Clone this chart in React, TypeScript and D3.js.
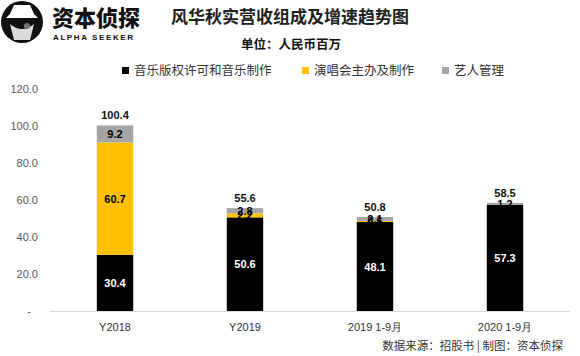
import React from "react";
import * as d3 from "d3";

const categories = ["Y2018", "Y2019", "2019 1-9月", "2020 1-9月"];
const seriesNames = ["音乐版权许可和音乐制作", "演唱会主办及制作", "艺人管理"];
const musicLicensing = [30.4, 50.6, 48.1, 57.3];
const concerts = [60.7, 2.2, 0.6, 0];
const artistMgmt = [9.2, 2.8, 2.1, 1.2];
const totals = [100.4, 55.6, 50.8, 58.5];
const yTicks = [0, 20, 40, 60, 80, 100, 120];

const colors = ["#000000", "#FFC000", "#A5A5A5"];
const labelColors = ["#ffffff", "#000000", "#000000"];

const W = 580;
const H = 356;
const plotLeft = 50;
const plotRight = 570;
const plotTop = 89;
const plotBottom = 311;

export default function App() {
  const x = d3.scaleBand<string>().domain(categories).range([plotLeft, plotRight]).paddingInner(0.72).paddingOuter(0.36);
  const y = d3.scaleLinear().domain([0, 120]).range([plotBottom, plotTop]);
  const series = [musicLicensing, concerts, artistMgmt];
  const rows = categories.map((c, i) => ({ c, s0: musicLicensing[i], s1: concerts[i], s2: artistMgmt[i] }));
  const stack = d3.stack<any>().keys(["s0", "s1", "s2"])(rows);
  const font = "'Liberation Sans', Arial, sans-serif";
  const cjk = "'Noto Sans CJK SC', sans-serif";

  const legendItems = [
    { x: 122, name: seriesNames[0], color: colors[0] },
    { x: 302, name: seriesNames[1], color: colors[1] },
    { x: 442, name: seriesNames[2], color: colors[2] },
  ];

  return (
    <svg width={W} height={H} style={{ position: "absolute", left: 0, top: 0, background: "#fff" }}>
      {/* Logo */}
      <g>
        <circle cx={22} cy={22} r={21} fill="#111" />
        <path d="M6,18 L38,18 L34,14 L30,5 L14,5 L10,14 Z" fill="#fff" />
        <rect x={12} y={19} width={20} height={2} fill="#111" />
        <path d="M10,24 Q22,34 34,24 L30,40 L14,40 Z" fill="#fff" opacity={0.85} />
        <circle cx={27} cy={26} r={3} fill="#777" />
        <text x={52} y={26} fontFamily={cjk} fontWeight={900} fontSize={22} fill="#111">资本侦探</text>
        <text x={53} y={40} fontFamily={font} fontWeight={700} fontSize={8} letterSpacing={1.6} fill="#111">ALPHA SEEKER</text>
      </g>

      {/* Title */}
      <text x={290} y={23} textAnchor="middle" fontFamily={cjk} fontWeight={700} fontSize={17} fill="#222">风华秋实营收组成及增速趋势图</text>
      <text x={291} y={49} textAnchor="middle" fontFamily={cjk} fontWeight={700} fontSize={12.5} fill="#111">单位：人民币百万</text>

      {/* Legend */}
      {legendItems.map((l) => (
        <g key={l.name}>
          <rect x={l.x} y={67} width={7} height={7} fill={l.color} />
          <text x={l.x + 12} y={75} fontFamily={cjk} fontSize={12.5} fill="#333">{l.name}</text>
        </g>
      ))}

      {/* Y axis tick labels */}
      {yTicks.map((t) => (
        <text key={t} x={t === 0 ? 31 : 38} y={y(t) + 4} textAnchor="end" fontFamily={font} fontSize={11} fill="#595959">
          {t === 0 ? "-" : t.toFixed(1)}
        </text>
      ))}

      {/* Axis line */}
      <line x1={plotLeft} x2={plotRight} y1={plotBottom + 0.5} y2={plotBottom + 0.5} stroke="#d9d9d9" strokeWidth={1} />

      {/* Bars */}
      {stack.map((layer, si) =>
        layer.map((d, i) => (
          <rect
            key={`${si}-${i}`}
            x={x(categories[i])}
            y={y(d[1])}
            width={x.bandwidth()}
            height={Math.max(0, y(d[0]) - y(d[1]))}
            fill={colors[si]}
          />
        ))
      )}

      {/* Segment labels */}
      {stack.map((layer, si) =>
        layer.map((d, i) =>
          series[si][i] > 0 ? (
            <text
              key={`l${si}-${i}`}
              x={(x(categories[i]) as number) + x.bandwidth() / 2}
              y={y((d[0] + d[1]) / 2) + 4}
              textAnchor="middle"
              fontFamily={font}
              fontWeight={700}
              fontSize={11}
              fill={labelColors[si]}
            >
              {series[si][i].toFixed(1)}
            </text>
          ) : null
        )
      )}

      {/* Totals */}
      {totals.map((t, i) => (
        <text
          key={`t${i}`}
          x={(x(categories[i]) as number) + x.bandwidth() / 2}
          y={y(t) - 6}
          textAnchor="middle"
          fontFamily={font}
          fontWeight={700}
          fontSize={11}
          fill="#111"
        >
          {t.toFixed(1)}
        </text>
      ))}

      {/* Category labels */}
      {categories.map((c) => (
        <text key={c} x={(x(c) as number) + x.bandwidth() / 2} y={331} textAnchor="middle" fontFamily={font} fontSize={11} fill="#333">
          {c}
        </text>
      ))}

      {/* Source */}
      <text x={563} y={350} textAnchor="end" fontFamily={cjk} fontSize={11.5} fill="#333">数据来源：招股书 | 制图：资本侦探</text>
    </svg>
  );
}
